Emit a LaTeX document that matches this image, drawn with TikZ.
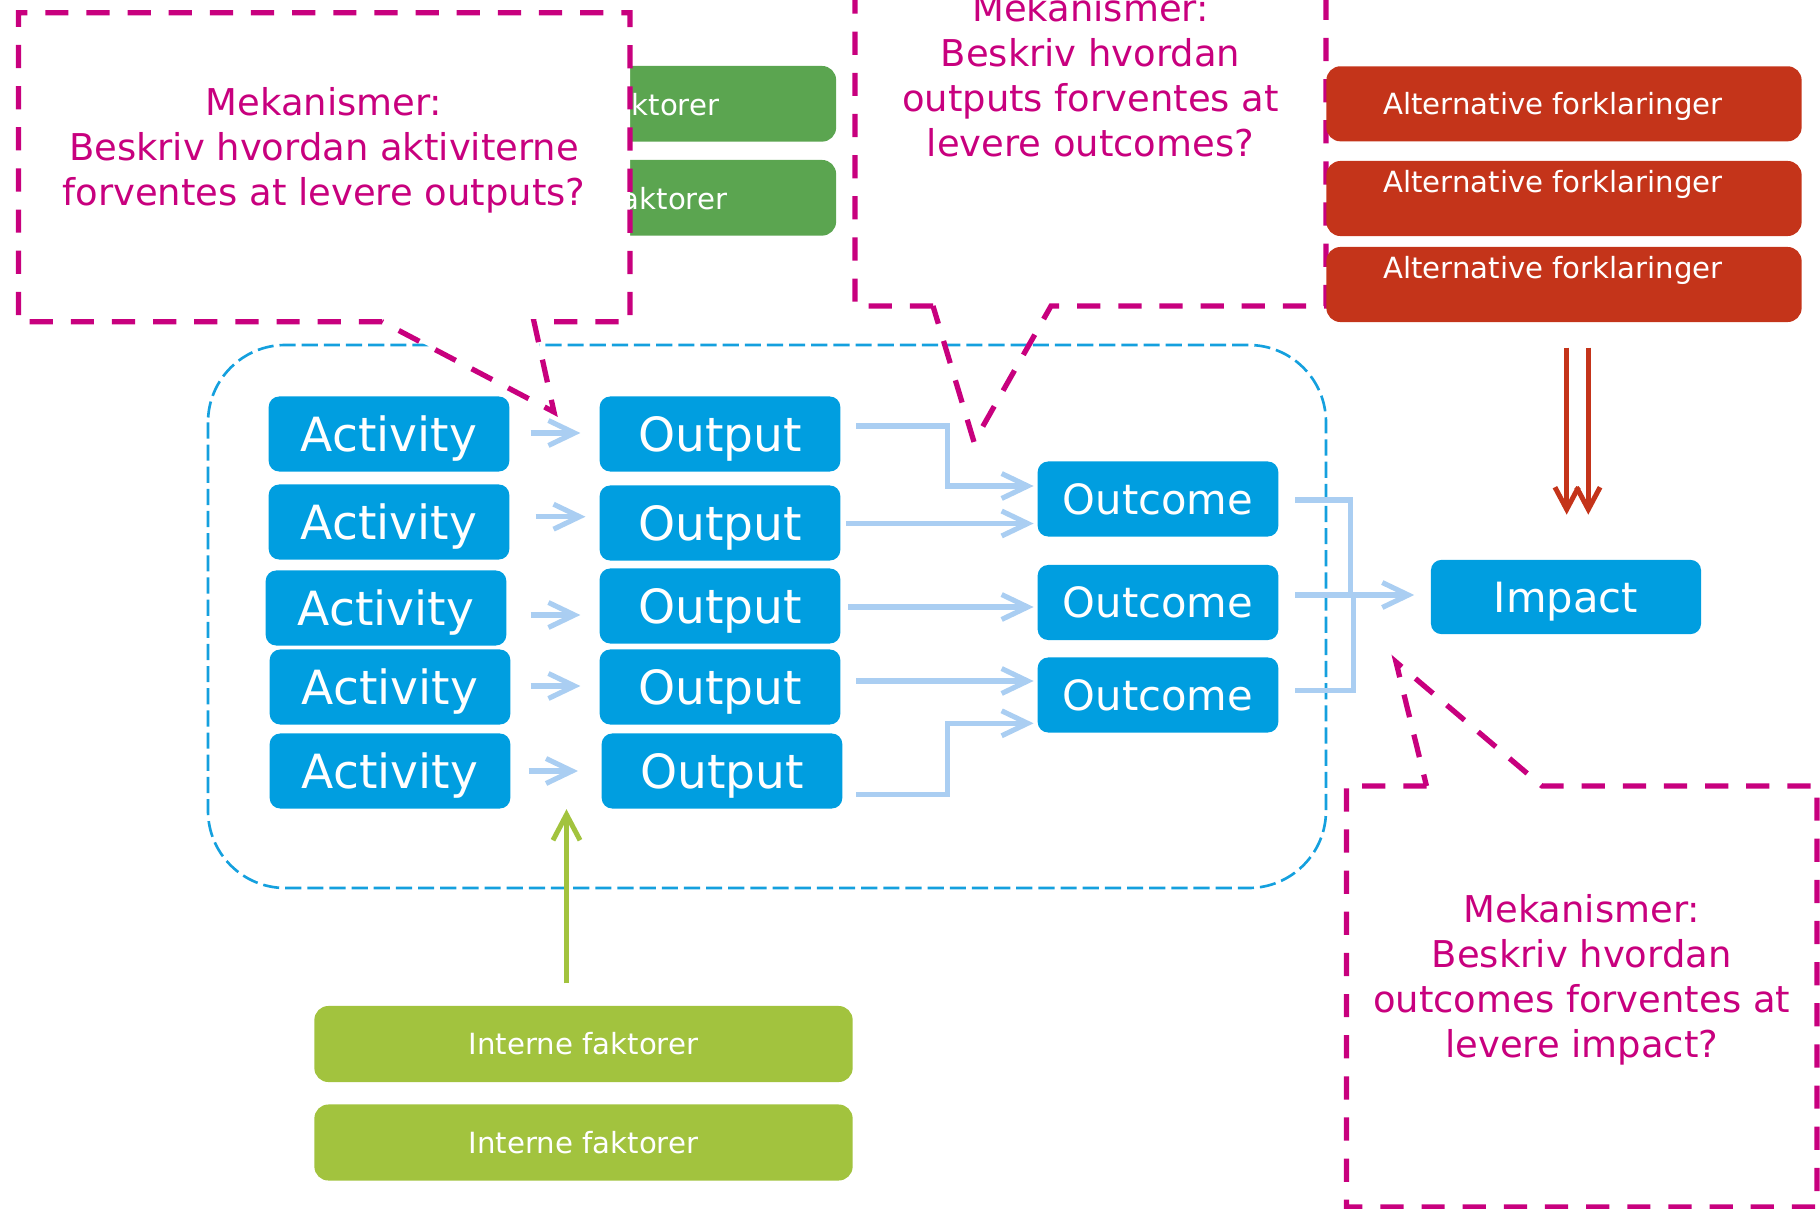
\documentclass[tikz,border=0pt]{standalone}
\usepackage{fontspec}
\setmainfont{DejaVu Sans}
\usetikzlibrary{arrows.meta,calc}
\definecolor{boxblue}{RGB}{0,158,224}
\definecolor{lightarr}{RGB}{170,206,242}
\definecolor{magc}{RGB}{200,0,126}
\definecolor{redc}{RGB}{196,52,26}
\definecolor{greendk}{RGB}{91,165,80}
\definecolor{greenlt}{RGB}{162,195,62}
\definecolor{grpblue}{RGB}{20,160,222}
\begin{document}
\begin{tikzpicture}[x=0.01cm,y=-0.01cm,
  blk/.style={fill=boxblue, rounded corners=3pt, text=white, inner sep=0pt, minimum height=0.75cm},
  bigbox/.style={blk, minimum width=2.405cm, font=\fontsize{13.4pt}{16pt}\selectfont, text height=9.8pt, text depth=0pt},
  midbox/.style={blk, minimum width=2.405cm, font=\fontsize{11.85pt}{14pt}\selectfont, text height=8.6pt, text depth=0pt},
  smallfont/.style={font=\fontsize{8.3pt}{10pt}\selectfont, text=white, inner sep=0pt},
  extbox/.style={fill=greendk, rounded corners=4pt, inner sep=0pt, minimum height=0.756cm},
  exttext/.style={smallfont, anchor=east, text height=6.05pt, text depth=0pt},
  altbox/.style={smallfont, fill=redc, rounded corners=4pt, minimum width=4.75cm, minimum height=0.75cm},
  intbox/.style={smallfont, fill=greenlt, rounded corners=4pt, minimum width=5.38cm, minimum height=0.76cm, text height=6.05pt, text depth=0pt},
  callout/.style={draw=magc, line width=1.5pt, dash pattern=on 6.6pt off 5.1pt},
  ctext/.style={text=magc, align=center, inner sep=0pt, font=\fontsize{10.5pt}{12.8pt}\selectfont},
  grp/.style={draw=grpblue, line width=0.75pt, dash pattern=on 4.6pt off 1.7pt, rounded corners=22pt},
  conn/.style={draw=lightarr, line width=1.45pt, -{Straight Barb[length=7.4pt,width=7.1pt]}},
  connplain/.style={draw=lightarr, line width=1.45pt},
  redarr/.style={draw=redc, line width=1.42pt, -{Straight Barb[length=6.3pt,width=6.7pt]}},
  grnarr/.style={draw=greenlt, line width=1.42pt, -{Straight Barb[length=7.3pt,width=7.7pt]}}
]
\useasboundingbox (0,0) rectangle (1820,1209);
\clip (0,0) rectangle (1820,1209);

% group boundary
\draw[grp] (208,345) rectangle (1326,888);

% external factors (mostly hidden behind the first callout)
\node[extbox, minimum width=4.85cm] (ext1) at (593.5,103.8) {};
\node[extbox, minimum width=4.69cm] (ext2) at (601.5,197.8) {};
\node[exttext] (ext1t) at (720,105) {ktorer};
\node[exttext] (ext2t) at (728,199) {aktorer};

% callout 1
\draw[callout, fill=white] (382,321.7) -- (18.4,321.7) -- (18.4,12.7) -- (630,12.7) -- (630,321.7) -- (534,321.7) -- (554,412) -- cycle;
\node[ctext] (m1) at (324,150) {Mekanismer:\\Beskriv hvordan aktiviterne\\forventes at levere outputs?};

% callout 2
\draw[callout] (933,306) -- (855,306) -- (855,-109) -- (1326,-109) -- (1326,306) -- (1051,306) -- (974,442) -- cycle;
\node[ctext] (m2) at (1090.5,75) {Mekanismer:\\Beskriv hvordan\\outputs forventes at\\levere outcomes?};

% alternative explanations
\node[altbox, text height=6.05pt, text depth=0pt] (alt1) at (1564,103.8) {\hspace*{-0.22cm}Alternative forklaringer};
\node[altbox, align=center] (alt2) at (1564,198.5) {\hspace*{-0.22cm}Alternative forklaringer\\\mbox{}};
\node[altbox, align=center] (alt3) at (1564,284.5) {\hspace*{-0.22cm}Alternative forklaringer\\\mbox{}};

% callout 3
\draw[callout, fill=white] (1426.5,786) -- (1346.5,786) -- (1346.5,1207) -- (1817,1207) -- (1817,786) -- (1542,786) -- (1396,662) -- cycle;
\node[ctext] (m3) at (1581.7,980) {Mekanismer:\\Beskriv hvordan\\outcomes forventes at\\levere impact?};

% activities
\node[bigbox] (act1) at (389,434) {Activity};
\node[bigbox] (act2) at (389,522) {Activity};
\node[bigbox] (act3) at (386,608) {Activity};
\node[bigbox] (act4) at (390,687) {Activity};
\node[bigbox] (act5) at (390,771) {Activity};
% outputs
\node[bigbox] (out1) at (720,434) {Output};
\node[bigbox] (out2) at (720,523) {Output};
\node[bigbox] (out3) at (720,606) {Output};
\node[bigbox] (out4) at (720,687) {Output};
\node[bigbox] (out5) at (722,771) {Output};
% outcomes
\node[midbox] (oc1) at (1158,499) {Outcome};
\node[midbox] (oc2) at (1158,602.5) {Outcome};
\node[midbox] (oc3) at (1158,695) {Outcome};
% impact
\node[midbox, minimum width=2.7cm, minimum height=0.742cm] (imp) at (1566,597) {Impact};

% activity -> output
\draw[conn] ($(act1.east)+(20.5,-1)$) -- ($(out1.west)+(-18.6,-1)$);
\draw[conn] ($(act2.east)+(25.5,-5.3)$) -- ($(out2.west)+(-13.5,-6.3)$);
\draw[conn] ($(act3.east)+(23.5,7)$) -- ($(out3.west)+(-18.6,9)$);
\draw[conn] ($(act4.east)+(19.5,-1)$) -- ($(out4.west)+(-18.6,-1)$);
\draw[conn] ($(act5.east)+(17.5,0)$) -- ($(out5.west)+(-23,0)$);

% output -> outcome
\draw[conn] ($(out1.east)+(15,-8)$) -- ++(91.6,0) |- ($(oc1.west)+(-3.4,-13)$);
\draw[conn] ($(out2.east)+(5.4,0.5)$) -- ($(oc1.west)+(-3.4,24.5)$);
\draw[conn] ($(out3.east)+(6.8,1)$) -- ($(oc2.west)+(-3.4,4.5)$);
\draw[conn] ($(out4.east)+(15,-6)$) -- ($(oc3.west)+(-3.4,-14)$);
\draw[conn] ($(out5.east)+(13,23.3)$) -- ++(91.6,0) |- ($(oc3.west)+(-3.4,28.3)$);

% outcome -> impact
\draw[connplain] ($(oc1.east)+(16,1)$) -| ($(imp.west)+(-80,-2)$);
\draw[connplain] ($(oc3.east)+(16,-4.3)$) -| ($(imp.west)+(-77,-2)$);
\draw[conn] ($(oc2.east)+(16,-7.5)$) -- ($(imp.west)+(-16,-2)$);

% internal factors
\node[intbox] (int1) at (583.5,1044) {Interne faktorer};
\node[intbox] (int2) at (583.5,1142.5) {Interne faktorer};
\draw[grnarr] ($(int1.north)+(-17,-22)$) coordinate (gs) -- (gs |- out5.south);

% alternative explanations -> impact
\draw[redarr] ($(alt3.south)+(2.7,25)$) -- ($(imp.north)+(0.7,-44.5)$);
\draw[redarr] ($(alt3.south)+(24.3,25)$) -- ($(imp.north)+(22.3,-44.5)$);
\end{tikzpicture}
\end{document}
